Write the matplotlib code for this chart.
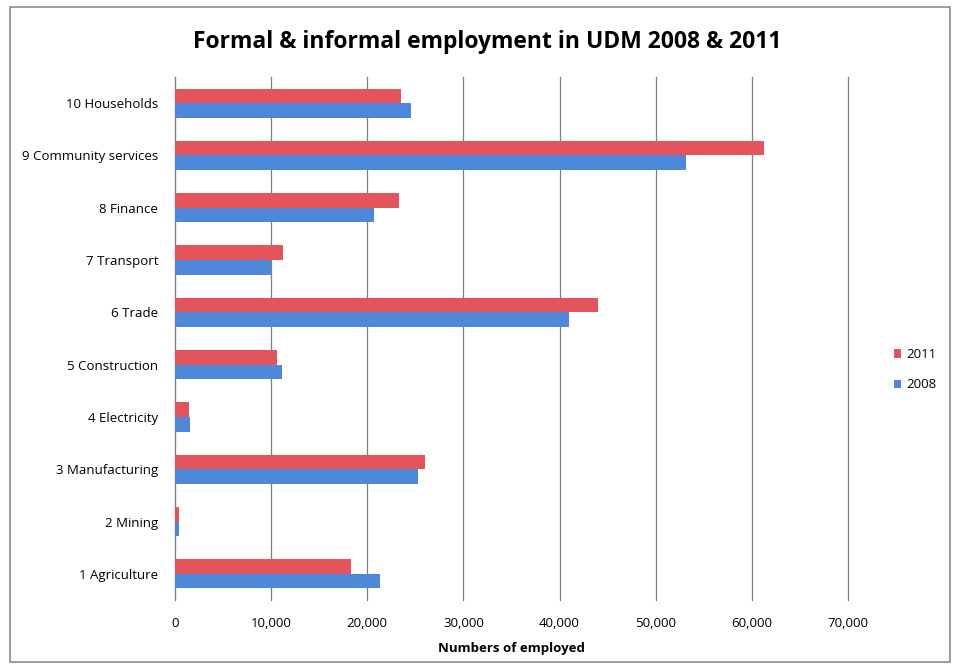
import matplotlib
matplotlib.use("Agg")
import matplotlib.pyplot as plt
from matplotlib.patches import Rectangle
from matplotlib.ticker import FuncFormatter, MultipleLocator
import numpy as np

plt.rcParams['font.family'] = ['Open Sans', 'DejaVu Sans']

categories = ["1 Agriculture", "2 Mining", "3 Manufacturing", "4 Electricity",
              "5 Construction", "6 Trade", "7 Transport", "8 Finance",
              "9 Community services", "10 Households"]
values_2011 = [18300, 400, 26000, 1500, 10600, 44000, 11200, 23300, 61300, 23500]
values_2008 = [21300, 400, 25300, 1600, 11100, 41000, 10000, 20700, 53200, 24500]
series_labels = ["2011", "2008"]
title = "Formal & informal employment in UDM 2008 & 2011"
xlabel = "Numbers of employed"

red = "#E4555B"
blue = "#4F88DA"

fig = plt.figure(figsize=(9.6, 6.68), dpi=100)
W, H = 960, 668
ax = fig.add_axes([175 / W, 1 - 600 / H, (848 - 175) / W, (600 - 77) / H])

y = np.arange(len(categories))
h = 0.28
ax.barh(y + h / 2, values_2011, height=h, color=red, label=series_labels[0], zorder=3)
ax.barh(y - h / 2, values_2008, height=h, color=blue, label=series_labels[1], zorder=3)

ax.set_xlim(0, 70000)
ax.set_ylim(-0.5, len(categories) - 0.5)
ax.set_yticks(y)
ax.set_yticklabels(categories, fontsize=9.5)
ax.xaxis.set_major_locator(MultipleLocator(10000))
ax.xaxis.set_major_formatter(FuncFormatter(lambda v, p: f"{int(v):,}"))
ax.tick_params(axis='x', labelsize=9.5, length=0, pad=12)
ax.tick_params(axis='y', length=0, pad=12)
ax.grid(axis='x', color='#7f7f7f', linewidth=0.9, zorder=0)
for gl in ax.get_xgridlines():
    gl.set_clip_on(False)
for s in ['top', 'right', 'bottom']:
    ax.spines[s].set_visible(False)
ax.spines['left'].set_color('#7f7f7f')
ax.set_xlabel(xlabel, fontsize=9.5, fontweight='bold', labelpad=9)

fig.text(487 / W, 1 - 42 / H, title, fontsize=16.5, fontweight='bold',
         ha='center', va='center')

leg = ax.legend(loc='center left', bbox_to_anchor=(1.05, 0.44), frameon=False,
                fontsize=9.5, handlelength=0.6, handleheight=0.6,
                labelspacing=1.3, handletextpad=0.4)

fig.patches.append(Rectangle((10 / W, 1 - 662 / H), 940 / W, 655 / H,
                             transform=fig.transFigure, fill=False,
                             edgecolor='#8c8c8c', linewidth=1.2))

fig.savefig("out.png", dpi=100)
